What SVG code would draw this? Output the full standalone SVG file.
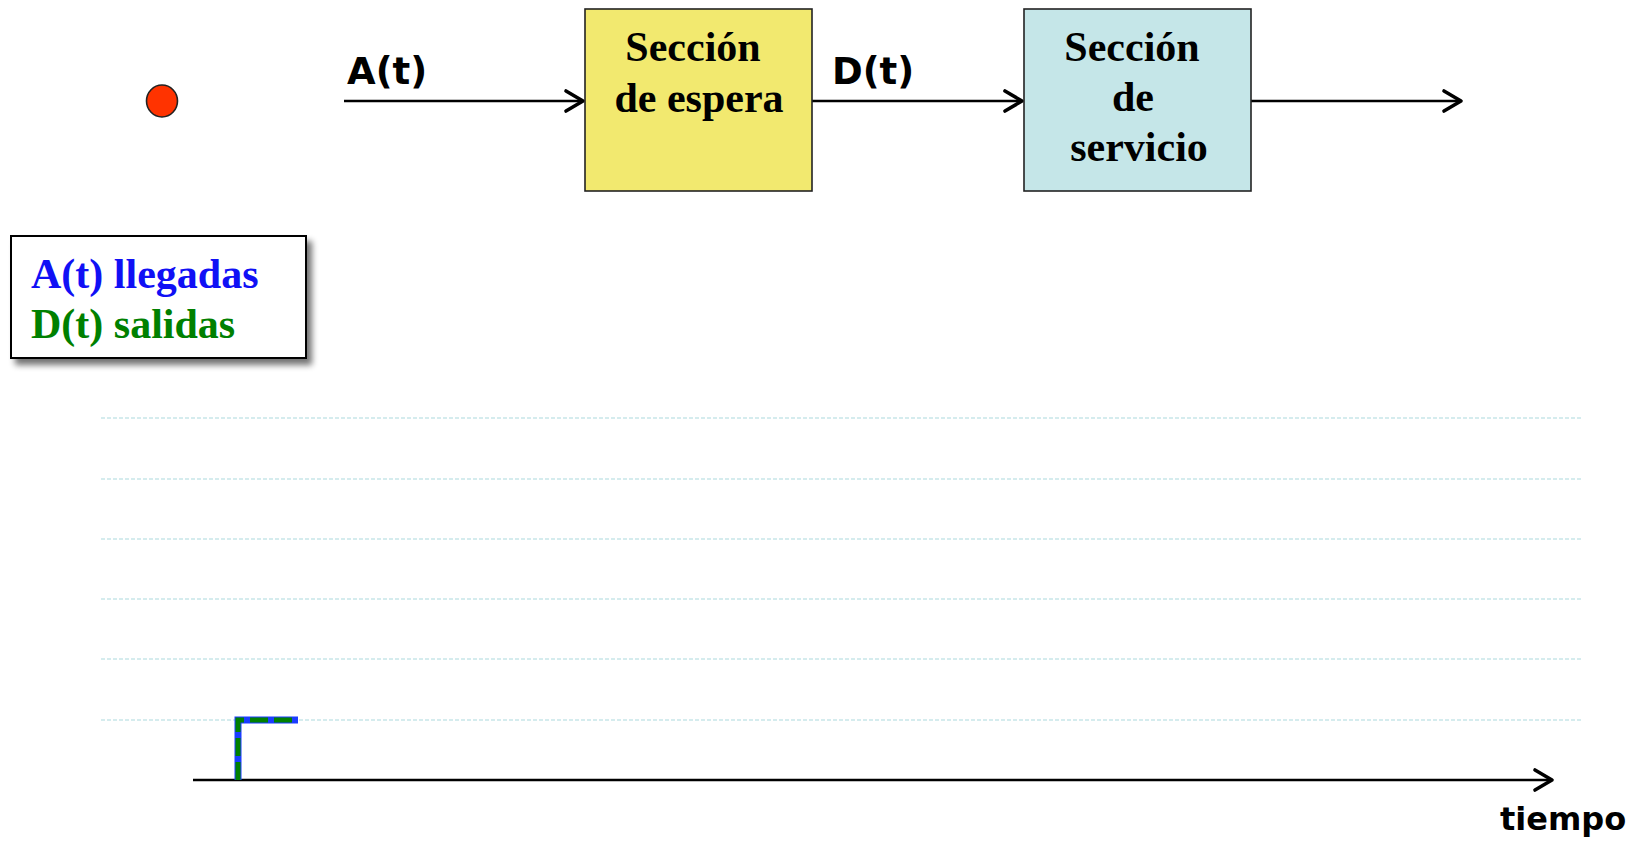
<svg xmlns="http://www.w3.org/2000/svg" width="1636" height="842" viewBox="0 0 1636 842">
<style>
.box{stroke:#222;stroke-width:1.6}
.bt{font-family:"Liberation Serif",serif;font-weight:bold;font-size:42px;fill:#000;text-anchor:middle}
.lbl{font-family:"DejaVu Sans",sans-serif;font-weight:bold;font-size:37px;fill:#000}
.conn{stroke:#000;stroke-width:2.5;fill:none}
.grid{stroke:#c8e6e9;stroke-width:1.3;stroke-dasharray:4 2}
.leg{font-family:"Liberation Serif",serif;font-weight:bold;font-size:42px}
</style>
<defs>
<marker id="arr" markerWidth="26" markerHeight="26" refX="21" refY="13" orient="auto" markerUnits="userSpaceOnUse">
<path d="M4,3 L21,13 L4,23" fill="none" stroke="#000" stroke-width="3.6" stroke-linecap="round" stroke-linejoin="round"/>
</marker>
<filter id="sh" x="-10%" y="-10%" width="130%" height="140%">
<feGaussianBlur in="SourceAlpha" stdDeviation="3"/>
<feOffset dx="5" dy="6" result="b"/>
<feComponentTransfer><feFuncA type="linear" slope="0.55"/></feComponentTransfer>
<feMerge><feMergeNode/><feMergeNode in="SourceGraphic"/></feMerge>
</filter>
</defs>
<rect width="1636" height="842" fill="#fff"/>

<g id="grid">
<line class="grid" x1="101" y1="418" x2="1583" y2="418"/>
<line class="grid" x1="101" y1="479" x2="1583" y2="479"/>
<line class="grid" x1="101" y1="539" x2="1583" y2="539"/>
<line class="grid" x1="101" y1="599" x2="1583" y2="599"/>
<line class="grid" x1="101" y1="659" x2="1583" y2="659"/>
<line class="grid" x1="101" y1="720" x2="1583" y2="720"/>
</g>

<g id="connectors">
<line class="conn" x1="344" y1="101" x2="583" y2="101" marker-end="url(#arr)"/>
<line class="conn" x1="812" y1="101" x2="1022" y2="101" marker-end="url(#arr)"/>
<line class="conn" x1="1251" y1="101" x2="1461" y2="101" marker-end="url(#arr)"/>
<line class="conn" x1="193" y1="780" x2="1552" y2="780" marker-end="url(#arr)"/>
</g>

<g id="customer">
<ellipse cx="162" cy="101" rx="15.5" ry="16" fill="#ff3300" stroke="#222" stroke-width="1.6"/>
</g>

<g id="label-A">
<text class="lbl" x="347" y="84">A(t)</text>
</g>
<g id="label-D">
<text class="lbl" x="832" y="84">D(t)</text>
</g>

<g id="espera">
<rect class="box" x="585" y="9" width="227" height="182" fill="#f2e96f"/>
<text class="bt" x="693" y="61">Sección</text>
<text class="bt" x="699" y="112">de espera</text>
</g>

<g id="servicio">
<rect class="box" x="1024" y="9" width="227" height="182" fill="#c5e6e8"/>
<text class="bt" x="1132" y="61">Sección</text>
<text class="bt" x="1133" y="111">de</text>
<text class="bt" x="1139" y="161">servicio</text>
</g>

<g id="legend">
<rect x="11" y="236" width="295" height="122" fill="#fff" stroke="#000" stroke-width="2" filter="url(#sh)"/>
<text class="leg" x="31" y="288" fill="#1010f5">A(t) llegadas</text>
<text class="leg" x="31" y="338" fill="#008000">D(t) salidas</text>
</g>

<g id="step">
<path d="M238,780 L238,720 L298,720" fill="none" stroke="#1a3cff" stroke-width="7"/>
<path d="M238,780 L238,720 L298,720" fill="none" stroke="#008000" stroke-width="5" stroke-dasharray="18 6"/>
</g>

<g id="axis-label">
<text class="lbl" x="1500" y="830" style="font-size:32px">tiempo</text>
</g>
</svg>
